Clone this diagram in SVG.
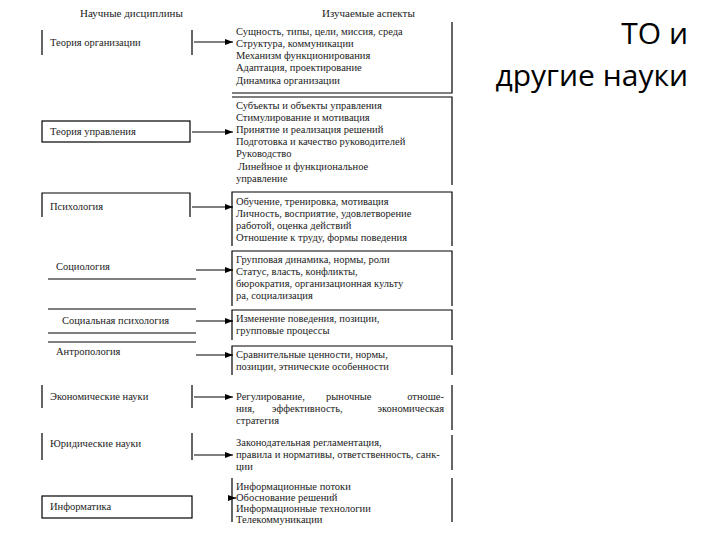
<svg xmlns="http://www.w3.org/2000/svg" width="720" height="540" viewBox="0 0 720 540">
<defs><marker id="ar" markerWidth="8" markerHeight="6" refX="8" refY="3" orient="auto" markerUnits="userSpaceOnUse"><path d="M0,0 L8,3 L0,6 Z" fill="#000"/></marker></defs>
<style>
.t{font-family:"Liberation Serif",serif;font-size:10.5px;fill:#222}
.h{font-family:"Liberation Serif",serif;font-size:11px;fill:#222}
.ln{stroke:#000;stroke-width:1.2;fill:none}
.c{stroke:#000;stroke-width:1.2;marker-end:url(#ar)}
.ti{font-family:"Open Sans",sans-serif;font-size:30px;fill:#000}
</style>
<rect width="720" height="540" fill="#fff"/>
<text class="ti" x="688" y="44" text-anchor="end">ТО и</text>
<text class="ti" x="688" y="86" text-anchor="end">другие науки</text>
<text class="h" x="80" y="17">Научные дисциплины</text>
<text class="h" x="322" y="17">Изучаемые аспекты</text>
<g id="n1"><path class="ln" d="M42,30V55M192,30V55"/><text class="t" x="50" y="46">Теория организации</text></g>
<g id="a1"><path class="ln" d="M452,22V93H232"/><text class="t" x="236" y="35">Сущность, типы, цели, миссия, среда</text><text class="t" x="236" y="47">Структура, коммуникации</text><text class="t" x="236" y="59">Механизм функционирования</text><text class="t" x="236" y="71">Адаптация, проектирование</text><text class="t" x="236" y="84">Динамика организации</text></g>
<g id="n2"><rect class="ln" x="42" y="121" width="148" height="21"/><text class="t" x="50" y="135">Теория управления</text></g>
<g id="a2"><path class="ln" d="M232,97H452V185"/><text class="t" x="236" y="109">Субъекты и объекты управления</text><text class="t" x="236" y="121">Стимулирование и мотивация</text><text class="t" x="236" y="133">Принятие и реализация решений</text><text class="t" x="236" y="145">Подготовка и качество руководителей</text><text class="t" x="236" y="157">Руководство</text><text class="t" x="238" y="170">Линейное и функциональное</text><text class="t" x="236" y="182">управление</text></g>
<g id="n3"><path class="ln" d="M42,217V193H190V217"/><text class="t" x="50" y="210">Психология</text></g>
<g id="a3"><path class="ln" d="M232,246V192H452V246"/><text class="t" x="236" y="205">Обучение, тренировка, мотивация</text><text class="t" x="236" y="217">Личность, восприятие, удовлетворение</text><text class="t" x="236" y="229">работой, оценка действий</text><text class="t" x="236" y="241">Отношение к труду, формы поведения</text></g>
<g id="n4"><path class="ln" d="M48,279H196"/><text class="t" x="56" y="270">Социология</text></g>
<g id="a4"><path class="ln" d="M232,306V251H452V306"/><text class="t" x="236" y="263">Групповая динамика, нормы, роли</text><text class="t" x="236" y="275">Статус, власть, конфликты,</text><text class="t" x="236" y="287">бюрократия, организационная культу</text><text class="t" x="236" y="299">ра, социализация</text></g>
<g id="n5"><path class="ln" d="M48,309H196M48,333H196"/><text class="t" x="62" y="324">Социальная психология</text></g>
<g id="a5"><path class="ln" d="M232,340V310H452V340"/><text class="t" x="236" y="322">Изменение поведения, позиции,</text><text class="t" x="236" y="334">групповые процессы</text></g>
<g id="n6"><path class="ln" d="M48,342H196"/><text class="t" x="56" y="355">Антропология</text></g>
<g id="a6"><path class="ln" d="M232,375V346H452V375"/><text class="t" x="236" y="358">Сравнительные ценности, нормы,</text><text class="t" x="236" y="370">позиции, этнические особенности</text></g>
<g id="n7"><path class="ln" d="M42,385V408M192,385V408"/><text class="t" x="50" y="400">Экономические науки</text></g>
<g id="a7"><path class="ln" d="M452,385V430"/><text class="t" y="400"><tspan x="236">Регулирование,</tspan><tspan x="326">рыночные</tspan><tspan x="444" text-anchor="end">отноше-</tspan></text><text class="t" y="412"><tspan x="236">ния,</tspan><tspan x="272">эффективность,</tspan><tspan x="444" text-anchor="end">экономическая</tspan></text><text class="t" x="236" y="424">стратегия</text></g>
<g id="n8"><path class="ln" d="M42,433V460M192,433V460"/><text class="t" x="50" y="447">Юридические науки</text></g>
<g id="a8"><path class="ln" d="M452,435V470"/><text class="t" x="236" y="446">Законодательная регламентация,</text><text class="t" x="236" y="458">правила и нормативы, ответственность, санк-</text><text class="t" x="236" y="470">ции</text></g>
<g id="n9"><rect class="ln" x="42" y="496" width="150" height="22"/><text class="t" x="50" y="510">Информатика</text></g>
<g id="a9"><path class="ln" d="M232,478V522M452,478V522"/><text class="t" x="236" y="490">Информационные потоки</text><text class="t" x="236" y="501">Обоснование решений</text><text class="t" x="236" y="512">Информационные технологии</text><text class="t" x="236" y="523">Телекоммуникации</text></g>
<g id="connectors">
<line class="c" x1="194" y1="42" x2="233" y2="42"/>
<line class="c" x1="192" y1="132" x2="233" y2="132"/>
<line class="c" x1="192" y1="207" x2="233" y2="207"/>
<line class="c" x1="196" y1="270" x2="233" y2="270"/>
<line class="c" x1="196" y1="321" x2="233" y2="321"/>
<line class="c" x1="196" y1="355" x2="233" y2="355"/>
<line class="c" x1="194" y1="397" x2="233" y2="397"/>
<line class="c" x1="194" y1="455" x2="233" y2="455"/>
<line class="c" x1="232" y1="498" x2="236" y2="498"/>
</g>
</svg>
